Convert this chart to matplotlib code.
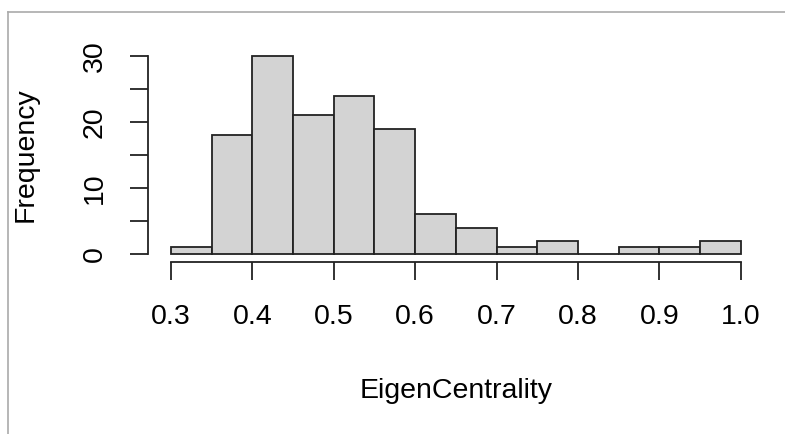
import matplotlib.pyplot as plt
import numpy as np
from matplotlib.lines import Line2D

# histogram of eigenvector centrality, bins of width 0.05
binEdges = [0.30, 0.35, 0.40, 0.45, 0.50, 0.55, 0.60, 0.65, 0.70,
            0.75, 0.80, 0.85, 0.90, 0.95, 1.00]
counts = [1, 18, 30, 21, 24, 19, 6, 4, 1, 2, 0, 1, 1, 2]

xTicks = [0.3, 0.4, 0.5, 0.6, 0.7, 0.8, 0.9, 1.0]
xTickLabels = ['0.3', '0.4', '0.5', '0.6', '0.7', '0.8', '0.9', '1.0']
yTicks = [0, 5, 10, 15, 20, 25, 30]
yTickLabels = ['0', '', '10', '', '20', '', '30']

plt.rcParams['font.family'] = ['Liberation Sans', 'DejaVu Sans']
fs = 20.5

fig = plt.figure(figsize=(7.85, 4.34), dpi=100)
ax = fig.add_axes([0.1888, 0.3963, 0.7838, 0.4931])

edges = np.array(binEdges)
ax.bar(edges[:-1], counts, width=np.diff(edges), align='edge',
       color='#d3d3d3', edgecolor='#222222', linewidth=1.3)

# R-style plot region: data range plus 4% on each side
ax.set_xlim(0.272, 1.028)
ax.set_ylim(-1.2, 31.2)

for s in ['top', 'right']:
    ax.spines[s].set_visible(False)
ax.spines['left'].set_bounds(0, 30)
ax.spines['bottom'].set_bounds(0.3, 1.0)
for s in ['left', 'bottom']:
    ax.spines[s].set_linewidth(1.3)
    ax.spines[s].set_color('#222222')

ax.set_xticks(xTicks)
ax.set_xticklabels(xTickLabels, fontsize=fs)
ax.set_yticks(yTicks)
ax.set_yticklabels(yTickLabels, fontsize=fs, rotation=90, va='center')
ax.tick_params(axis='x', length=13, width=1.3, color='#222222', pad=17)
ax.tick_params(axis='y', length=13, width=1.3, color='#222222', pad=16)

ax.set_xlabel('EigenCentrality', fontsize=fs, labelpad=35)
ax.set_ylabel('Frequency', fontsize=fs, labelpad=31)

# grey frame on the left and top edges of the image
fig.add_artist(Line2D([7.5/785, 7.5/785], [0, 1-12/434], transform=fig.transFigure,
                      color='#aaaaaa', linewidth=1.2))
fig.add_artist(Line2D([7.5/785, 1], [1-12/434, 1-12/434], transform=fig.transFigure,
                      color='#aaaaaa', linewidth=1.2))

plt.savefig('out.png', dpi=100)
